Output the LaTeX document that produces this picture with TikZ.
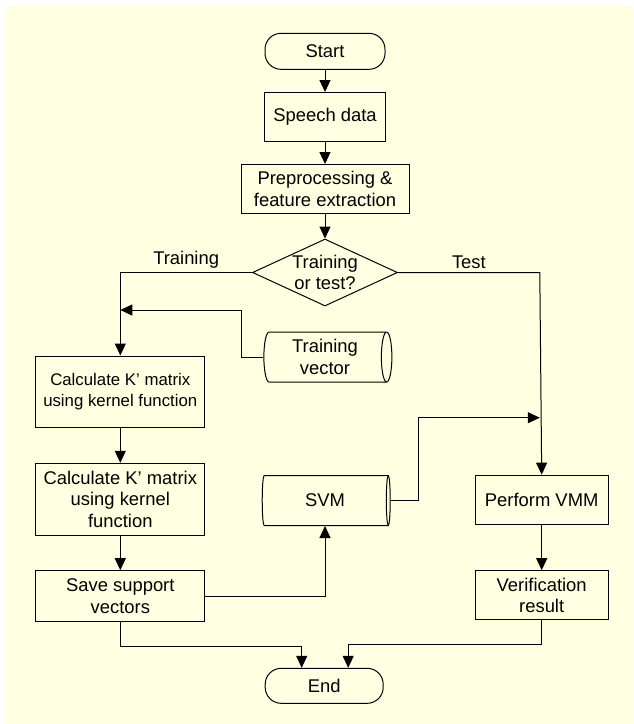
\documentclass[tikz,border=0pt]{standalone}
\usepackage{fontspec}
\setmainfont{Liberation Sans}
\usetikzlibrary{shapes.geometric, arrows.meta}
\definecolor{paleyellow}{RGB}{255,255,225}

\begin{document}
\begin{tikzpicture}[
    x=1pt, y=-1pt,
    >={Triangle[length=12pt, width=11pt]},
    font=\fontsize{18.4}{21.5}\selectfont,
    every path/.style={line width=1pt},
    proc/.style={draw, line width=1pt, minimum height=49pt, inner sep=0pt, align=center},
    term/.style={draw, line width=1pt, rounded corners=16pt, minimum width=120pt, minimum height=36pt, inner sep=0pt},
    decide/.style={draw, line width=1pt, diamond, aspect=2.16, minimum width=145pt, minimum height=67pt, inner sep=-3pt, align=center},
    store/.style={draw, line width=1pt, cylinder, aspect=0.3, minimum height=128pt, minimum width=50pt, inner sep=0pt, align=center}
    ]

    % Background
    \useasboundingbox (0,0) rectangle (633,724);
    \fill[white] (0,0) rectangle (633,724);
    \fill[paleyellow] (6,6) rectangle (633,724);

    % Main column
    \node[term] (start) at (325, 51.3) {Start};
    \node[proc, minimum width=121.6pt] (speech) at (325, 117) {Speech data};
    \node[proc, minimum width=168pt] (prep) at (325, 189) {Preprocessing \&\\feature extraction};
    \node[decide] (choice) at (325, 272.5) {Training\\or test?};

    % Training branch
    \node[proc, minimum width=168.7pt, minimum height=71pt, font=\fontsize{16.8}{21.3}\selectfont] (calc1) at (120.3, 391.5) {Calculate K’ matrix\\using kernel function};
    \node[proc, minimum width=168.7pt, minimum height=72pt] (calc2) at (120.3, 499.3) {Calculate K’ matrix\\using kernel\\function};
    \node[proc, minimum width=168.7pt, minimum height=51pt] (save) at (120.3, 596.2) {Save support\\vectors};

    % Stores
    \node[store] (trainvec) at (325, 357) {Training\\vector};
    \node[store] (svm) at (325, 500.5) {SVM};

    % Test branch
    \node[proc, minimum width=133.3pt] (vmm) at (541.7, 499.7) {Perform VMM};
    \node[proc, minimum width=133.3pt] (verif) at (541.7, 595.2) {Verification\\result};

    % End
    \node[term, minimum width=118pt, minimum height=35pt] (finish) at (324.2, 685.8) {End};

    % Joints
    \coordinate (trainjoin) at (120.3, 310);
    \coordinate (testjoin) at (539.8, 417.7);

    % Connections down the main column
    \draw[->] (start) -- (speech);
    \draw[->] (speech) -- (prep);
    \draw[->] (prep) -- (choice);

    % Decision
    \draw[->] (choice.west) -- node[above] (trainlbl) {Training} (choice.west -| calc1.north) -- (calc1.north);
    \draw[->] (choice.east) -- node[above] (testlbl) {Test} (choice.east -| testjoin) -- (vmm.north);

    % Training vector feeds in
    \draw[->] (trainvec.west) -- ++(-22, 0) |- (trainjoin);

    % Training steps
    \draw[->] (calc1) -- (calc2);
    \draw[->] (calc2) -- (save);
    \draw[->] (save.east) -| (svm.south);

    % SVM feeds the test branch
    \draw[->] (svm.east) -- ++(28, 0) |- (testjoin);

    % Test steps
    \draw[->] (vmm) -- (verif);

    % To end
    \draw[->] (save.south) -- ++(0, 24) -| ([xshift=-22.5pt]finish.north);
    \draw[->] (verif.south) -- ++(0, 24) -| ([xshift=24pt]finish.north);

\end{tikzpicture}
\end{document}
